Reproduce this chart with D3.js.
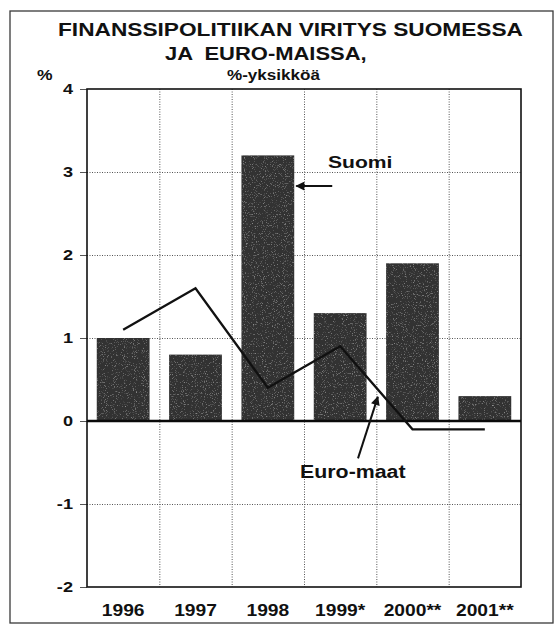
<!DOCTYPE html>
<html>
<head>
<meta charset="utf-8">
<script src="https://cdn.jsdelivr.net/npm/d3@7"></script>
<style>
  html, body { margin: 0; padding: 0; background: #fff; }
  svg { display: block; font-family: "Liberation Sans", Arial, sans-serif; }
</style>
</head>
<body>
<svg id="chart" width="559" height="627"></svg>
<script>
// Fiscal stance, Finland (bars) vs euro area (line), %-points
const years = ["1996", "1997", "1998", "1999*", "2000**", "2001**"];
const suomi = [1.0, 0.8, 3.2, 1.3, 1.9, 0.3];
const euroMaat = [1.1, 1.6, 0.4, 0.9, -0.1, -0.1];
const yTicks = [-2, -1, 0, 1, 2, 3, 4];
const titleLines = ["FINANSSIPOLITIIKAN VIRITYS SUOMESSA", "JA  EURO-MAISSA,"];
const subtitle = "%-yksikköä";

const svg = d3.select("#chart");
const plot = { left: 87, right: 521, top: 89, bottom: 587 };

const x = d3.scaleBand().domain(years).range([plot.left, plot.right]).padding(0);
const y = d3.scaleLinear().domain([-2, 4]).range([plot.bottom, plot.top]);
const barW = x.bandwidth() * 0.73;
const barOff = (x.bandwidth() - barW) / 2;
const cx = d => x(d) + x.bandwidth() / 2;

// Helvetica-style wide bold lettering: stretch text horizontally
function stretch(sel, f) {
  sel.each(function () {
    const len = this.getComputedTextLength();
    d3.select(this).attr("textLength", len * f).attr("lengthAdjust", "spacingAndGlyphs");
  });
  return sel;
}

const defs = svg.append("defs");
defs.append("marker")
  .attr("id", "arrow")
  .attr("viewBox", "0 0 10 10")
  .attr("refX", 9).attr("refY", 5)
  .attr("markerWidth", 11).attr("markerHeight", 9)
  .attr("markerUnits", "userSpaceOnUse")
  .attr("orient", "auto")
  .append("path").attr("d", "M0,0 L10,5 L0,10 Z").attr("fill", "#111");

// printed grain for the bars
const grain = defs.append("filter").attr("id", "grain")
  .attr("x", 0).attr("y", 0).attr("width", 1).attr("height", 1);
grain.append("feTurbulence").attr("type", "fractalNoise").attr("baseFrequency", 0.9)
  .attr("numOctaves", 2).attr("seed", 3).attr("result", "noise");
grain.append("feColorMatrix").attr("in", "noise").attr("type", "matrix")
  .attr("values", "0 0 0 0 0.55  0 0 0 0 0.55  0 0 0 0 0.55  0 0 0 1.6 -0.95").attr("result", "speck");
grain.append("feComposite").attr("in", "speck").attr("in2", "SourceGraphic").attr("operator", "in").attr("result", "sp");
grain.append("feMerge").selectAll("feMergeNode").data(["SourceGraphic", "sp"]).join("feMergeNode").attr("in", d => d);

// outer frame
svg.append("rect").attr("x", 10).attr("y", 11).attr("width", 543).attr("height", 612)
  .attr("fill", "none").attr("stroke", "#3a3a3a").attr("stroke-width", 1.3);

// titles
stretch(svg.append("text").attr("x", 58).attr("y", 36)
  .attr("font-size", 18).attr("font-weight", "bold").attr("fill", "#111")
  .text(titleLines[0]), 1.26);
stretch(svg.append("text").attr("x", 165).attr("y", 60)
  .attr("font-size", 18).attr("font-weight", "bold").attr("fill", "#111")
  .style("white-space", "pre")
  .text(titleLines[1]), 1.22);
stretch(svg.append("text").attr("x", 227).attr("y", 80)
  .attr("font-size", 14).attr("font-weight", "bold").attr("fill", "#111")
  .text(subtitle), 1.22);
stretch(svg.append("text").attr("x", 37).attr("y", 80)
  .attr("font-size", 14).attr("font-weight", "bold").attr("fill", "#111")
  .text("%"), 1.25);

// grid
const grid = svg.append("g").attr("stroke", "#555").attr("stroke-width", 1)
  .attr("stroke-dasharray", "1,1.5");
grid.selectAll("line.h").data(yTicks.filter(t => t !== 0 && t !== 4 && t !== -2)).join("line")
  .attr("x1", plot.left).attr("x2", plot.right)
  .attr("y1", d => y(d) + 0.5).attr("y2", d => y(d) + 0.5);
grid.selectAll("line.v").data(years.slice(1)).join("line")
  .attr("x1", d => x(d) + 0.5).attr("x2", d => x(d) + 0.5)
  .attr("y1", plot.top).attr("y2", plot.bottom);

// y ticks and labels
svg.append("g").selectAll("line").data(yTicks).join("line")
  .attr("x1", plot.left - 7).attr("x2", plot.left)
  .attr("y1", d => y(d) + 0.5).attr("y2", d => y(d) + 0.5)
  .attr("stroke", "#555").attr("stroke-width", 1);
stretch(svg.append("g").selectAll("text").data(yTicks).join("text")
  .attr("x", 73).attr("y", d => y(d) + 5)
  .attr("text-anchor", "end").attr("font-size", 14.5).attr("font-weight", "bold").attr("fill", "#111")
  .text(d => d), 1.25);

// bars
svg.append("g").selectAll("rect").data(years).join("rect")
  .attr("x", d => x(d) + barOff)
  .attr("y", (d, i) => y(suomi[i]))
  .attr("width", barW)
  .attr("height", (d, i) => y(0) - y(suomi[i]))
  .attr("fill", "#333")
  .attr("filter", "url(#grain)");

// plot frame and zero line
svg.append("rect").attr("x", plot.left).attr("y", plot.top)
  .attr("width", plot.right - plot.left).attr("height", plot.bottom - plot.top)
  .attr("fill", "none").attr("stroke", "#111").attr("stroke-width", 1.6);
svg.append("line").attr("x1", plot.left).attr("x2", plot.right)
  .attr("y1", y(0)).attr("y2", y(0)).attr("stroke", "#0a0a0a").attr("stroke-width", 2.6);

// euro-area line
const line = d3.line().x((d, i) => cx(years[i])).y(d => y(d));
svg.append("path").datum(euroMaat).attr("d", line)
  .attr("fill", "none").attr("stroke", "#111").attr("stroke-width", 2.3)
  .attr("stroke-linejoin", "miter");

// x labels
stretch(svg.append("g").selectAll("text").data(years).join("text")
  .attr("x", d => cx(d)).attr("y", 616)
  .attr("text-anchor", "middle").attr("font-size", 16).attr("font-weight", "bold").attr("fill", "#111")
  .text(d => d), 1.2);

// annotations
const i98 = years.indexOf("1998");
const suomiTipX = x(years[i98]) + barOff + barW + 2;
const suomiTipY = y(2.83);
svg.append("line").attr("x1", suomiTipX + 36).attr("y1", suomiTipY)
  .attr("x2", suomiTipX).attr("y2", suomiTipY)
  .attr("stroke", "#111").attr("stroke-width", 2).attr("marker-end", "url(#arrow)");
stretch(svg.append("text").attr("x", 328).attr("y", y(3.05))
  .attr("font-size", 17).attr("font-weight", "bold").attr("fill", "#111").text("Suomi"), 1.24);

const euroTipX = x("2000**") - 0.5 + 2;
const euroTipY = y(0.29);
svg.append("line").attr("x1", 358).attr("y1", y(-0.45))
  .attr("x2", euroTipX).attr("y2", euroTipY)
  .attr("stroke", "#111").attr("stroke-width", 2).attr("marker-end", "url(#arrow)");
stretch(svg.append("text").attr("x", 300).attr("y", 478)
  .attr("font-size", 17.5).attr("font-weight", "bold").attr("fill", "#111").text("Euro-maat"), 1.22);
</script>
</body>
</html>
